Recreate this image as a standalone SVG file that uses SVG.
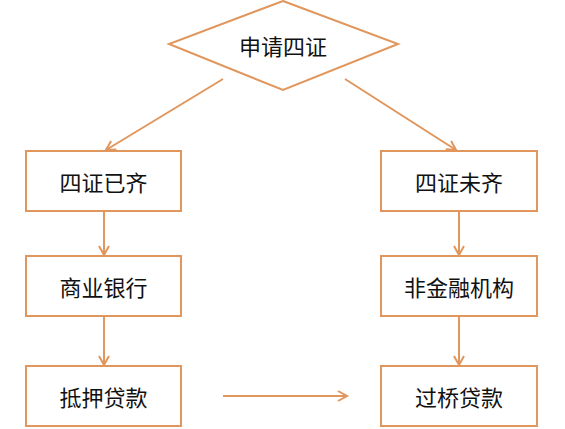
<svg xmlns="http://www.w3.org/2000/svg" width="565" height="429" viewBox="0 0 565 429">
<style>
.shape{fill:#fff;stroke:#E0965C;stroke-width:2}
.conn{fill:none;stroke:#E0965C;stroke-width:2}
.lbl{font-family:"Noto Sans CJK SC","Noto Sans CJK JP",sans-serif;font-size:22px;fill:#111;text-anchor:middle;dominant-baseline:central}
</style>
<defs>
<marker id="arr" markerUnits="userSpaceOnUse" markerWidth="14" markerHeight="14" refX="10" refY="6" orient="auto" viewBox="0 0 14 12">
<path d="M1,1 L10,6 L1,11" fill="none" stroke="#E0965C" stroke-width="2"/>
</marker>
</defs>
<rect width="565" height="429" fill="#fff"/>
<g id="connectors">
<line class="conn" x1="223" y1="79" x2="106" y2="150" marker-end="url(#arr)"/>
<line class="conn" x1="345" y1="79" x2="456" y2="150" marker-end="url(#arr)"/>
<line class="conn" x1="104" y1="211" x2="104" y2="255" marker-end="url(#arr)"/>
<line class="conn" x1="104" y1="316" x2="104" y2="365" marker-end="url(#arr)"/>
<line class="conn" x1="459" y1="211" x2="459" y2="255" marker-end="url(#arr)"/>
<line class="conn" x1="459" y1="316" x2="459" y2="365" marker-end="url(#arr)"/>
<line class="conn" x1="223" y1="396" x2="347" y2="396" marker-end="url(#arr)"/>
</g>
<g id="n-apply">
<polygon class="shape" points="283,1 398,44 283,90 169,44"/>
<text class="lbl" x="283" y="45">申请四证</text>
</g>
<g id="n-complete">
<rect class="shape" x="26" y="151" width="155" height="60"/>
<text class="lbl" x="103.5" y="181">四证已齐</text>
</g>
<g id="n-bank">
<rect class="shape" x="26" y="256" width="155" height="60"/>
<text class="lbl" x="103.5" y="286">商业银行</text>
</g>
<g id="n-mortgage">
<rect class="shape" x="26" y="366" width="155" height="60"/>
<text class="lbl" x="103.5" y="396">抵押贷款</text>
</g>
<g id="n-incomplete">
<rect class="shape" x="381" y="151" width="156" height="60"/>
<text class="lbl" x="459" y="181">四证未齐</text>
</g>
<g id="n-nonbank">
<rect class="shape" x="381" y="256" width="156" height="60"/>
<text class="lbl" x="459" y="286">非金融机构</text>
</g>
<g id="n-bridge">
<rect class="shape" x="381" y="366" width="156" height="60"/>
<text class="lbl" x="459" y="396">过桥贷款</text>
</g>
</svg>
